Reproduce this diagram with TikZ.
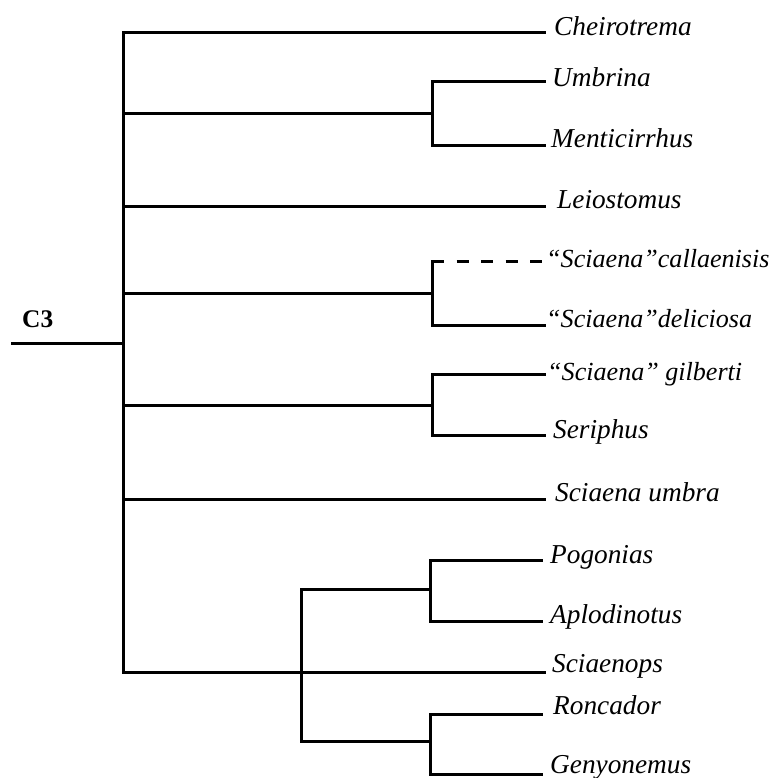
\documentclass[tikz,border=0pt]{standalone}
\usepackage{fontspec}
\setmainfont{Liberation Serif}
\begin{document}
\begin{tikzpicture}[x=1pt,y=-1pt,
  branch/.style={line width=3pt, line cap=butt, line join=miter},
  dashbranch/.style={line width=3pt, line cap=butt, dash pattern=on 12pt off 12.5pt},
  leaf/.style={anchor=base west, inner sep=0pt, font=\fontsize{27.3}{30}\selectfont\itshape},
  qleaf/.style={leaf, font=\fontsize{26.1}{29}\selectfont\itshape},
  clade/.style={anchor=base west, inner sep=0pt, font=\fontsize{25.4}{28}\selectfont\bfseries}]
\useasboundingbox (0,0) rectangle (779,778);
% internal nodes
\coordinate (r0) at (11,343.3);
\coordinate (n0) at (123.3,343.3);
\coordinate (n1) at (432,114);
\coordinate (n2) at (432,293.3);
\coordinate (n3) at (432,405);
\coordinate (n4) at (301.7,672);
\coordinate (n5) at (430,589.7);
\coordinate (n6) at (430,741.3);
% tips
\coordinate (tA) at (546,32.3);
\coordinate (tB) at (546,81.7);
\coordinate (tC) at (546,145.7);
\coordinate (tD) at (546,206.7);
\coordinate (tE) at (543,261.7);
\coordinate (tF) at (546,325);
\coordinate (tG) at (546,374);
\coordinate (tH) at (546,435);
\coordinate (tI) at (546,499);
\coordinate (tJ) at (543,560.3);
\coordinate (tK) at (543,621.3);
\coordinate (tL) at (546,672);
\coordinate (tM) at (543,714);
\coordinate (tN) at (543,774.7);
% branches
\draw[branch] (r0) -- (n0);
\draw[branch] (n0) |- (tA);
\draw[branch] (n0) |- (n1);
\draw[branch] (n0) |- (tD);
\draw[branch] (n0) |- (n2);
\draw[branch] (n0) |- (n3);
\draw[branch] (n0) |- (tI);
\draw[branch] (n0) |- (n4);
\draw[branch] (n1) |- (tB);
\draw[branch] (n1) |- (tC);
\draw[branch, line cap=rect] (n2) -- (n2 |- tE);
\draw[dashbranch] (n2 |- tE) -- (tE);
\draw[branch] (n2) |- (tF);
\draw[branch] (n3) |- (tG);
\draw[branch] (n3) |- (tH);
\draw[branch] (n4) -- (tL);
\draw[branch] (n4) |- (n5);
\draw[branch] (n4) |- (n6);
\draw[branch] (n5) |- (tJ);
\draw[branch] (n5) |- (tK);
\draw[branch] (n6) |- (tM);
\draw[branch] (n6) |- (tN);
% labels
\node[clade] (c3) at (22,327) {C3};
\node[leaf] (Cheirotrema) at (554,35.5) {Cheirotrema};
\node[leaf] (Umbrina) at (552,87) {Umbrina};
\node[leaf] (Menticirrhus) at (551,148) {Menticirrhus};
\node[leaf] (Leiostomus) at (557,208.5) {Leiostomus};
\node[qleaf] (callaenisis) at (546,267) {“Sciaena”callaenisis};
\node[qleaf] (deliciosa) at (546,327) {“Sciaena”deliciosa};
\node[qleaf] (gilberti) at (547,380) {“Sciaena” gilberti};
\node[leaf] (Seriphus) at (553,438) {Seriphus};
\node[leaf] (umbra) at (555,501.5) {Sciaena umbra};
\node[leaf] (Pogonias) at (550,563) {Pogonias};
\node[leaf] (Aplodinotus) at (550,623) {Aplodinotus};
\node[leaf] (Sciaenops) at (552,672) {Sciaenops};
\node[leaf] (Roncador) at (553,714) {Roncador};
\node[leaf] (Genyonemus) at (550,773) {Genyonemus};
\end{tikzpicture}
\end{document}
